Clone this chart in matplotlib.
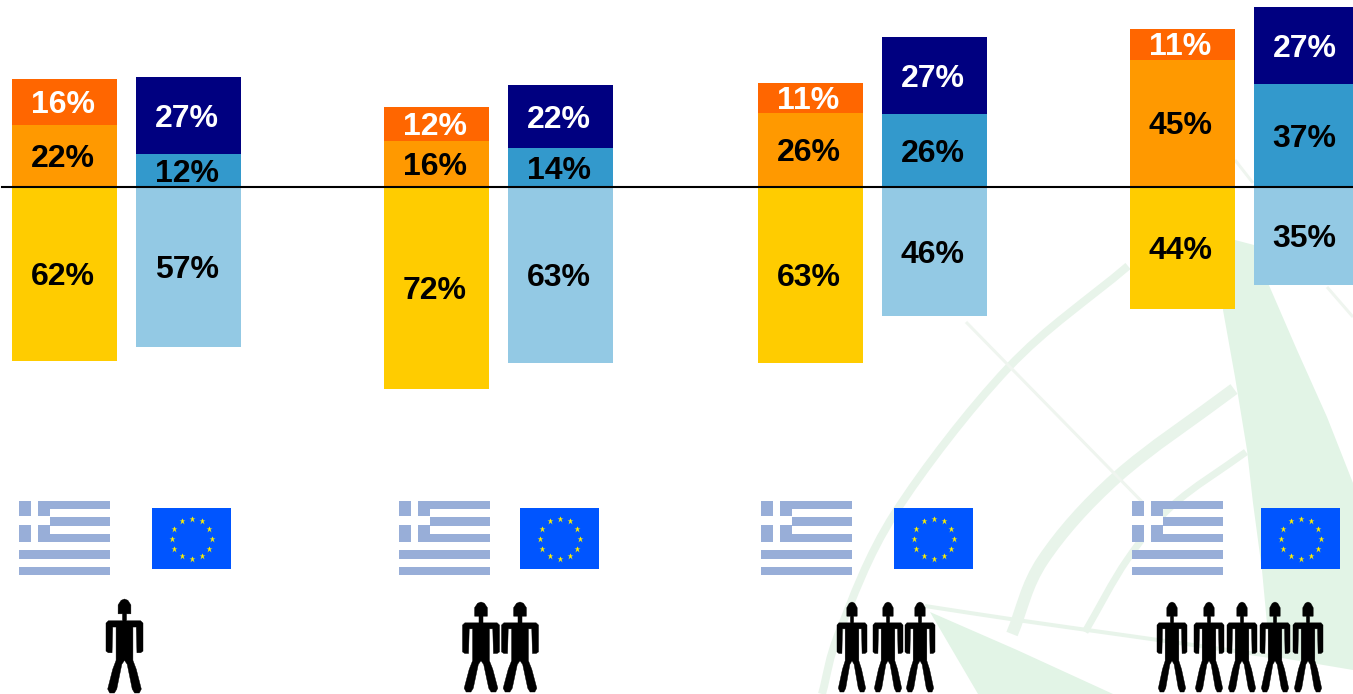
import numpy as np
import matplotlib
matplotlib.use("Agg")
import matplotlib.pyplot as plt
from matplotlib.patches import Polygon, Rectangle, PathPatch
from matplotlib.path import Path

# ---- data (percent) ----
groups = [1, 2, 3, 4]
people_counts = [1, 2, 3, 5]
gr_low = [62.1, 72.1, 62.9, 43.6]
gr_mid = [22.1, 16.4, 26.4, 45.4]
gr_top = [16.4, 12.1, 10.7, 11.1]
eu_low = [57.1, 62.9, 46.1, 35.0]
eu_mid = [11.8, 13.9, 26.1, 36.8]
eu_top = [27.4, 22.4, 27.4, 27.4]

GR_COL = ["#FFCC00", "#FF9900", "#FF6600"]
EU_COL = ["#93C9E4", "#3399CC", "#000080"]
GREEN = "#E2F4E6"
ARC = "#E8F4EA"
THIN = "#EFF5EF"
FLAG_BLUE = "#98AED8"

W, H = 1353, 694
fig = plt.figure(figsize=(W / 100, H / 100), dpi=100, facecolor="white")

# ---- decoration layer, in pixel coordinates ----
bg = fig.add_axes([0, 0, 1, 1], zorder=0)
bg.set_xlim(0, W)
bg.set_ylim(H, 0)
bg.axis("off")


def smooth(points, px, color=ARC):
    p = np.array(points, float)
    q = np.vstack([2 * p[0] - p[1], p, 2 * p[-1] - p[-2]])
    verts = [tuple(p[0])]
    codes = [Path.MOVETO]
    for i in range(1, len(q) - 2):
        verts += [tuple(q[i] + (q[i + 1] - q[i - 1]) / 6),
                  tuple(q[i + 1] - (q[i + 2] - q[i]) / 6),
                  tuple(q[i + 1])]
        codes += [Path.CURVE4] * 3
    bg.add_patch(PathPatch(Path(verts, codes), fill=False, ec=color,
                           lw=px * 0.72, capstyle="butt"))


# watermark compass
bg.add_patch(Polygon([(1235, 240), (1223, 310), (1235, 377), (1247, 450),
                      (1253, 503), (1262, 570), (1270, 656),
                      (1353, 670), (1353, 483), (1327, 417), (1297, 350),
                      (1268, 283), (1254, 245)], fc=GREEN, ec="none"))
bg.add_patch(Polygon([(930, 612), (1017, 650), (1113, 694), (978, 694)],
                     fc=GREEN, ec="none"))
smooth([(822, 694), (840, 630), (895, 513), (1008, 368), (1128, 266)], 8)
smooth([(1012, 634), (1043, 560), (1117, 477), (1234, 389)], 12)
smooth([(1085, 632), (1127, 560), (1173, 505), (1246, 452)], 7)
smooth([(966, 322), (1153, 513)], 3, THIN)
smooth([(925, 606), (1017, 620), (1130, 636), (1270, 656)], 4, ARC)
smooth([(1235, 160), (1253, 183)], 3, THIN)
smooth([(1327, 287), (1353, 317)], 3, THIN)

# flags
gr_flag_x = [19, 399, 761, 1132]
eu_flag_x = [152, 520, 894, 1261]
for x0 in gr_flag_x:
    top, fw, fh = 501, 91, 74
    sh = fh / 9
    for i in range(0, 9, 2):
        bg.add_patch(Rectangle((x0, top + i * sh), fw, sh, fc=FLAG_BLUE, ec="none"))
    bg.add_patch(Rectangle((x0, top), 31, 5 * sh, fc=FLAG_BLUE, ec="none"))
    bg.add_patch(Rectangle((x0 + 12, top), 7, 5 * sh, fc="white", ec="none"))
    bg.add_patch(Rectangle((x0, top + 2 * sh - 1), 31, sh, fc="white", ec="none"))
for x0 in eu_flag_x:
    bg.add_patch(Rectangle((x0, 508), 79, 61, fc="#0055FF", ec="none"))
    ang = np.arange(12) * np.pi / 6
    bg.plot(x0 + 39.5 + 20 * np.cos(ang), 538.5 + 20 * np.sin(ang), ls="none",
            marker="*", ms=4.5, mfc="#FFF000", mec="none")

# people
half = [(0, 327), (10, 331), (19, 345), (19, 372), (6, 372), (6, 393), (48, 393), (55, 400),
        (55, 485), (48, 490), (37, 490), (35, 412), (25, 412), (25, 513), (35, 540),
        (50, 600), (44, 612), (30, 612), (23, 600), (8, 525), (0, 513)]
half = np.array(half, float)
shape = np.vstack([half, half[-2:0:-1] * [-1, 1]])
shape[:, 0] /= 110
shape[:, 1] = (shape[:, 1] - 327) / 285
people_x = [[124.5], [481, 520], [852, 888, 920], [1172, 1209, 1242, 1275, 1308]]
people_size = [(37, 94, 599), (37, 90, 602), (30, 90, 602), (30, 90, 602)]
for xs, (pw, ph, py) in zip(people_x, people_size):
    for cx in xs:
        bg.add_patch(Polygon(np.c_[cx + shape[:, 0] * pw, py + shape[:, 1] * ph],
                             fc="black", ec="black", lw=0.3, joinstyle="round"))

# ---- chart layer ----
ax = fig.add_axes([0, 0, 1, 1], zorder=1)
ax.patch.set_alpha(0)
ax.axis("off")
PX_Y = 2.8      # pixels per percent
BASE = 187      # pixel row of the zero line
ax.set_xlim(0, W)
ax.set_ylim((BASE - H) / PX_Y, BASE / PX_Y)
group_px = np.array([126.5, 498.5, 872.5, 1244.5])
bw = 105
off = 62


def stack(pos, low, mid, top, cols):
    low, mid, top = map(np.array, (low, mid, top))
    ax.bar(pos, -low, bw, color=cols[0], lw=0)
    ax.bar(pos, mid, bw, color=cols[1], lw=0)
    ax.bar(pos, top, bw, bottom=mid, color=cols[2], lw=0)
    for p, lo, m, t in zip(pos, low, mid, top):
        for val, yc, col in ((lo, -lo / 2, "black"), (m, m / 2, "black"),
                             (t, m + t / 2, "white")):
            ax.annotate(f"{val:.0f}%", (p, yc), xytext=(-1.4, -2.2),
                        textcoords="offset points", ha="center", va="center",
                        color=col, fontsize=23, fontweight="bold",
                        family="Liberation Sans", zorder=5)


stack(group_px - off, gr_low, gr_mid, gr_top, GR_COL)
stack(group_px + off, eu_low, eu_mid, eu_top, EU_COL)
ax.axhline(0, xmin=2 / W, xmax=1, color="black", lw=1.5, zorder=4)

fig.savefig("out.png", dpi=100, facecolor="white")
